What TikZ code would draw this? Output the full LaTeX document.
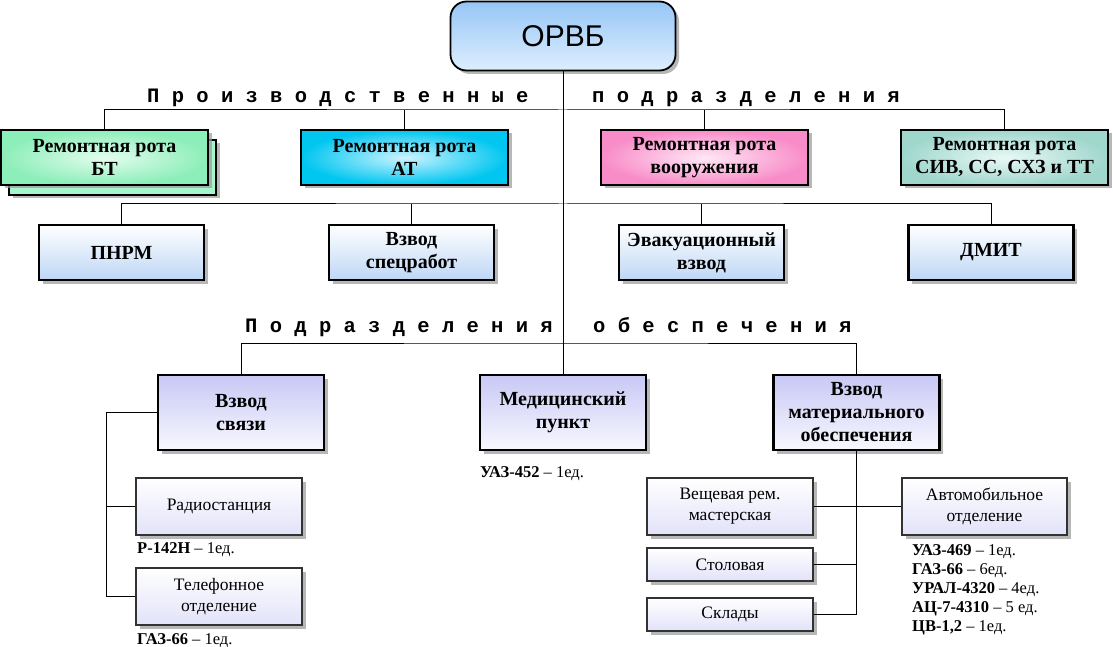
\documentclass[tikz,border=0pt]{standalone}
\usepackage{fontspec}
\setmainfont{Liberation Serif}
\newfontfamily\monof{Liberation Mono}
\newfontfamily\sansf{Liberation Sans}
\usetikzlibrary{shadows}
\definecolor{orvbtop}{RGB}{150,198,245}
\definecolor{orvbbot}{RGB}{222,238,255}
\definecolor{btout}{RGB}{140,238,185}
\definecolor{btin}{RGB}{228,253,238}
\definecolor{btback}{RGB}{165,245,205}
\definecolor{atout}{RGB}{0,198,240}
\definecolor{atin}{RGB}{205,243,255}
\definecolor{vrout}{RGB}{248,140,200}
\definecolor{vrin}{RGB}{255,232,246}
\definecolor{sivout}{RGB}{160,215,205}
\definecolor{sivin}{RGB}{232,248,244}
\definecolor{r2bot}{RGB}{190,215,245}
\definecolor{r3top}{RGB}{200,200,245}
\definecolor{r3bot}{RGB}{248,248,255}
\definecolor{smbot}{RGB}{226,226,250}
\definecolor{smdraw}{RGB}{50,50,50}
\begin{document}
\begin{tikzpicture}[x=1pt,y=-1pt,
  shad/.style={drop shadow={shadow xshift=3.5pt,shadow yshift=-3.5pt,fill=black!40,opacity=0.7}},
  bigbox/.style={draw=black,line width=2.4pt,inner sep=0pt,align=center,shad,
    font=\bfseries\fontsize{20}{23}\selectfont},
  rowone/.style={bigbox,minimum width=207pt,minimum height=55pt},
  rowtwo/.style={bigbox,minimum width=165pt,minimum height=55pt,top color=white,bottom color=r2bot},
  rowthree/.style={bigbox,minimum width=166pt,minimum height=75pt,top color=r3top,bottom color=r3bot},
  smallbox/.style={draw=smdraw,line width=1.3pt,inner sep=0pt,align=center,shad,
    minimum width=166pt,top color=white,bottom color=smbot,
    font=\fontsize{17.5}{21}\selectfont},
  spaced/.style={font=\monof\bfseries\fontsize{20.5}{24}\selectfont,inner sep=0pt,anchor=base west},
  note/.style={font=\fontsize{16.5}{19}\selectfont,inner sep=0pt,anchor=base west},
  conn/.style={draw=black,line width=1pt}
]
\useasboundingbox (0,0) rectangle (1113,647);

% top node
\node[draw=black,line width=1.8pt,rounded corners=16pt,minimum width=225pt,minimum height=69pt,
  top color=orvbtop,bottom color=orvbbot,shad,font=\sansf\fontsize{30}{34}\selectfont,inner sep=0pt]
  (orvb) at (563,36) {ОРВБ};

% group titles
\node[spaced] (t1a) at (147,103) {П р о и з в о д с т в е н н ы е};
\node[spaced] (t1b) at (592,103) {п о д р а з д е л е н и я};
\node[spaced] (t2a) at (245,332) {П о д р а з д е л е н и я};
\node[spaced] (t2b) at (593,332) {о б е с п е ч е н и я};

% row 1
\node[rowone,fill=btback] (btb) at (112.5,167.5) {};
\node[rowone,inner color=btin,outer color=btout] (bt) at (104.5,157.5) {Ремонтная рота\\БТ};
\node[rowone,inner color=atin,outer color=atout] (at) at (404.5,157.5) {Ремонтная рота\\АТ};
\node[rowone,inner color=vrin,outer color=vrout] (vr) at (704.5,157.5) {Ремонтная рота\\вооружения};
\node[rowone,inner color=sivin,outer color=sivout] (siv) at (1004.5,157.5) {Ремонтная рота\\СИВ, СС, СХЗ и ТТ};

% row 2
\node[rowtwo] (pnrm) at (121.5,252.5) {ПНРМ};
\node[rowtwo] (spec) at (411.5,252.5) {Взвод\\спецработ};
\node[rowtwo] (evak) at (701.5,252.5) {Эвакуационный\\взвод};
\node[rowtwo] (dmit) at (991,252.5) {ДМИТ};

% row 3
\node[rowthree] (svyaz) at (241,412.5) {Взвод\\связи};
\node[rowthree] (med) at (563,412.5) {Медицинский\\пункт};
\node[rowthree] (mat) at (856.5,412.5) {Взвод\\материального\\обеспечения};

% small boxes
\node[smallbox,minimum height=57pt] (radio) at (219,506.5) {Радиостанция};
\node[smallbox,minimum height=57pt] (tel) at (219,596.5) {Телефонное\\отделение};
\node[smallbox,minimum height=57pt] (vesh) at (730,506.5) {Вещевая рем.\\мастерская};
\node[smallbox,minimum height=33pt] (stol) at (730,564.5) {Столовая};
\node[smallbox,minimum height=33pt] (sklad) at (730,614.5) {Склады};
\node[smallbox,minimum height=57pt,minimum width=165pt] (avto) at (984.5,506.5) {Автомобильное\\отделение};

% notes
\node[note] (n1) at (137,553) {\textbf{Р-142Н} – 1ед.};
\node[note] (n2) at (137,644) {\textbf{ГАЗ-66} – 1ед.};
\node[note] (n3) at (480,477) {\textbf{УАЗ-452} – 1ед.};
\node[note] (v1) at (912,555) {\textbf{УАЗ-469} – 1ед.};
\node[note] (v2) at (912,574) {\textbf{ГАЗ-66} – 6ед.};
\node[note] (v3) at (912,593) {\textbf{УРАЛ-4320} – 4ед.};
\node[note] (v4) at (912,612) {\textbf{АЦ-7-4310} – 5 ед.};
\node[note] (v5) at (912,631) {\textbf{ЦВ-1,2} – 1ед.};

% connectors
\coordinate (h1) at (563,110);
\coordinate (h2) at (563,204);
\coordinate (h3) at (563,343);
\coordinate (sl) at (106,412.5);
\draw[conn] (orvb.south) -- (med.north);
\draw[conn] (bt.north) |- (h1) -| (siv.north);
\draw[conn] (at.north) -- (at.north |- h1);
\draw[conn] (vr.north) -- (vr.north |- h1);
\draw[conn] (pnrm.north) |- (h2) -| (dmit.north);
\draw[conn] (spec.north) -- (spec.north |- h2);
\draw[conn] (evak.north) -- (evak.north |- h2);
\draw[conn] (svyaz.north) |- (h3) -| (mat.north);
\draw[conn] (svyaz.west) -- (sl) |- (tel.west);
\draw[conn] (radio.west) -- (radio.west -| sl);
\draw[conn] (mat.south) |- (sklad.east);
\draw[conn] (vesh.east) -- (avto.west);
\draw[conn] (stol.east) -- (stol.east -| mat.south);
\end{tikzpicture}
\end{document}
